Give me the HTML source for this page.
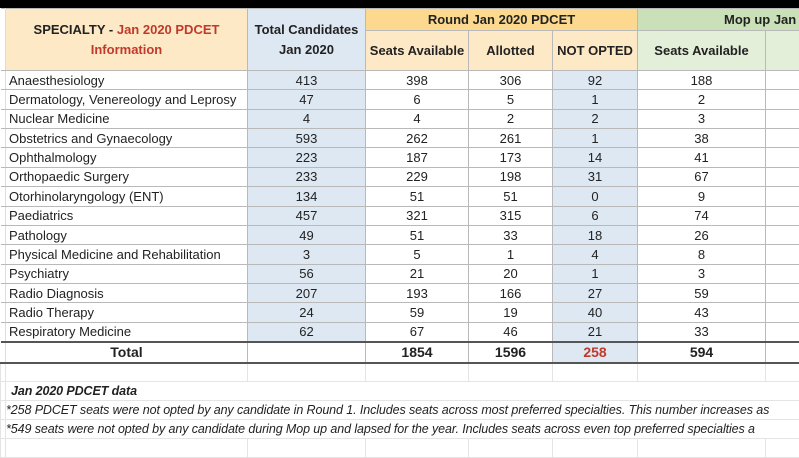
<!DOCTYPE html>
<html><head><meta charset="utf-8"><style>
*{margin:0;padding:0;box-sizing:border-box}
body{width:799px;height:450px;overflow:hidden;background:#fff;font-family:"Liberation Sans",sans-serif;color:#222;position:relative}
.top{position:absolute;left:0;top:0;width:799px;height:8px;background:#000}
table{position:absolute;left:0;top:8px;border-collapse:collapse;table-layout:fixed;width:799px;font-size:13px}
td{border:1px solid #b9b9b9;text-align:center;white-space:nowrap;overflow:hidden;padding:0}
tr.d td{height:19.36px}
td.l{text-align:left;padding-left:3px}
.bl{background:#dde8f3}
.hb{background:#fde9c6;font-weight:bold}
.hy{background:#fcd98f;font-weight:bold}
.hg{background:#c9e0b8;font-weight:bold}
.hg2{background:#e3efd9;font-weight:bold}
.g{border-left:none;border-right:1px solid #ddd}
.red{color:#c0392b}
.tot td{font-weight:bold;font-size:14px;height:21px;border-top:2px solid #555;border-bottom:2px solid #555}
.n td{height:19px;border-color:#e4e4e4}
.it{font-style:italic;text-align:left;padding-left:5px;overflow:visible;font-size:12.5px;letter-spacing:-0.1px}
</style></head><body>
<div class="top"></div>
<table>
<colgroup><col style="width:5px"><col style="width:242px"><col style="width:118px"><col style="width:103px"><col style="width:84px"><col style="width:85px"><col style="width:128px"><col style="width:34px"></colgroup>
<tr style="height:22px"><td class="g" rowspan="2"></td><td class="hb" rowspan="2" style="line-height:20px">SPECIALTY - <span class="red">Jan 2020 PDCET</span><br><span class="red">Information</span></td><td class="bl" rowspan="2" style="font-weight:bold;line-height:20px">Total Candidates<br>Jan 2020</td><td class="hy" colspan="3">Round Jan 2020 PDCET</td><td class="hg" colspan="2" style="text-align:left;padding-left:86px">Mop up Jan</td></tr>
<tr style="height:40px"><td class="hb">Seats Available</td><td class="hb">Allotted</td><td class="hb">NOT OPTED</td><td class="hg2">Seats Available</td><td class="hg2"></td></tr>
<tr class="d"><td class="g"></td><td class="l">Anaesthesiology</td><td class="bl">413</td><td>398</td><td>306</td><td class="bl">92</td><td>188</td><td></td></tr>
<tr class="d"><td class="g"></td><td class="l">Dermatology, Venereology and Leprosy</td><td class="bl">47</td><td>6</td><td>5</td><td class="bl">1</td><td>2</td><td></td></tr>
<tr class="d"><td class="g"></td><td class="l">Nuclear Medicine</td><td class="bl">4</td><td>4</td><td>2</td><td class="bl">2</td><td>3</td><td></td></tr>
<tr class="d"><td class="g"></td><td class="l">Obstetrics and Gynaecology</td><td class="bl">593</td><td>262</td><td>261</td><td class="bl">1</td><td>38</td><td></td></tr>
<tr class="d"><td class="g"></td><td class="l">Ophthalmology</td><td class="bl">223</td><td>187</td><td>173</td><td class="bl">14</td><td>41</td><td></td></tr>
<tr class="d"><td class="g"></td><td class="l">Orthopaedic Surgery</td><td class="bl">233</td><td>229</td><td>198</td><td class="bl">31</td><td>67</td><td></td></tr>
<tr class="d"><td class="g"></td><td class="l">Otorhinolaryngology (ENT)</td><td class="bl">134</td><td>51</td><td>51</td><td class="bl">0</td><td>9</td><td></td></tr>
<tr class="d"><td class="g"></td><td class="l">Paediatrics</td><td class="bl">457</td><td>321</td><td>315</td><td class="bl">6</td><td>74</td><td></td></tr>
<tr class="d"><td class="g"></td><td class="l">Pathology</td><td class="bl">49</td><td>51</td><td>33</td><td class="bl">18</td><td>26</td><td></td></tr>
<tr class="d"><td class="g"></td><td class="l">Physical Medicine and Rehabilitation</td><td class="bl">3</td><td>5</td><td>1</td><td class="bl">4</td><td>8</td><td></td></tr>
<tr class="d"><td class="g"></td><td class="l">Psychiatry</td><td class="bl">56</td><td>21</td><td>20</td><td class="bl">1</td><td>3</td><td></td></tr>
<tr class="d"><td class="g"></td><td class="l">Radio Diagnosis</td><td class="bl">207</td><td>193</td><td>166</td><td class="bl">27</td><td>59</td><td></td></tr>
<tr class="d"><td class="g"></td><td class="l">Radio Therapy</td><td class="bl">24</td><td>59</td><td>19</td><td class="bl">40</td><td>43</td><td></td></tr>
<tr class="d"><td class="g"></td><td class="l">Respiratory Medicine</td><td class="bl">62</td><td>67</td><td>46</td><td class="bl">21</td><td>33</td><td></td></tr>
<tr class="tot"><td class="g"></td><td>Total</td><td></td><td>1854</td><td>1596</td><td class="bl red">258</td><td>594</td><td></td></tr>
<tr class="n"><td></td><td></td><td></td><td></td><td></td><td></td><td></td><td></td></tr>
<tr class="n"><td></td><td colspan="7" class="it" style="font-weight:bold">Jan 2020 PDCET data</td></tr>
<tr class="n"><td></td><td colspan="7" class="it" style="padding-left:0">*258 PDCET seats were not opted by any candidate in Round 1. Includes seats across most preferred specialties. This number increases as</td></tr>
<tr class="n"><td></td><td colspan="7" class="it" style="padding-left:0">*549 seats were not opted by any candidate during Mop up and lapsed for the year. Includes seats across even top preferred specialties a</td></tr>
<tr class="n"><td></td><td></td><td></td><td></td><td></td><td></td><td></td><td></td></tr>
</table>
</body></html>
